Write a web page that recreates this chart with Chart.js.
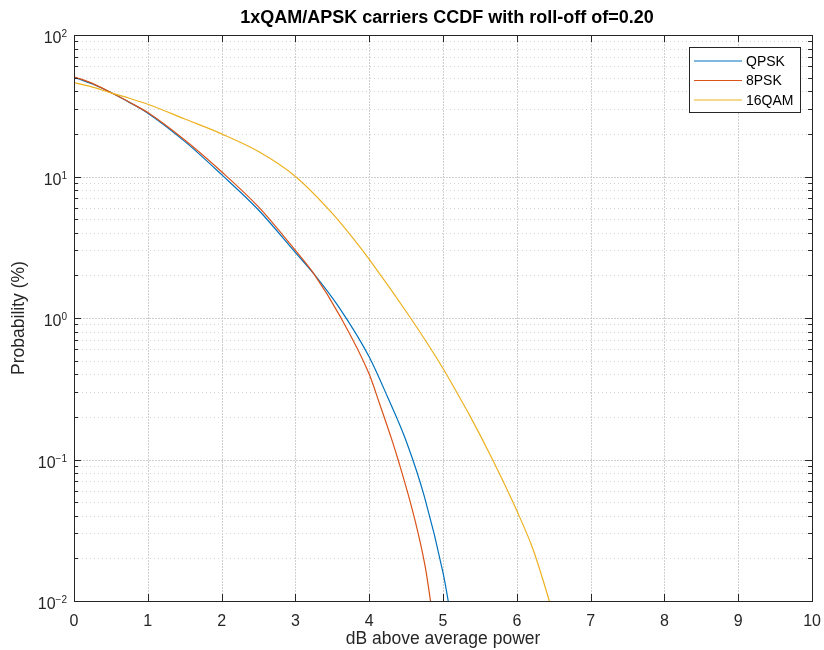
<!DOCTYPE html>
<html lang="en">
<head>
    <meta charset="UTF-8">
    <title>CCDF</title>
    <script src="https://cdn.jsdelivr.net/npm/chart.js"></script>
    <style>
        body {
            margin: 0;
            background: #fff;
        }
        canvas {
            display: block;
        }
    </style>
</head>
<body>

<canvas id="ccdfChart" width="824" height="650"></canvas>

<script>
    // values (dB above average power -> probability %)
    const qpskDb = [0, 0.25, 0.5, 0.75, 1.0, 1.5, 2.0, 2.5, 3.0, 3.25, 3.6, 4.0, 4.25, 4.5, 4.75, 5.0, 5.07, 5.12];
    const qpskProb = [50.4, 45.0, 39.2, 33.4, 28.0, 17.7, 10.3, 5.8, 2.9, 2.05, 1.17, 0.53, 0.275, 0.135, 0.054, 0.0158, 0.01, 0.0068];

    const psk8Db = [0, 0.25, 0.5, 0.75, 1.0, 1.5, 2.0, 2.5, 3.0, 3.25, 3.6, 4.0, 4.14, 4.31, 4.39, 4.61, 4.76, 4.83, 4.87];
    const psk8Prob = [50.6, 45.5, 39.2, 33.5, 28.3, 18.1, 10.8, 6.1, 3.0, 2.05, 1.04, 0.40, 0.248, 0.136, 0.1, 0.039, 0.0173, 0.01, 0.007];

    const qam16Db = [0, 0.22, 0.51, 0.76, 1.0, 1.5, 2.0, 2.5, 3.0, 3.5, 3.8, 4.0, 4.56, 5.0, 5.25, 5.35, 5.67, 6.0, 6.22, 6.44, 6.5];
    const qam16Prob = [46.1, 43.3, 38.8, 35.6, 32.4, 25.5, 20.0, 15.0, 10.0, 5.48, 3.55, 2.6, 1.0, 0.44, 0.26, 0.21, 0.1, 0.0434, 0.0231, 0.01, 0.0078];

    const seriesNames = ['QPSK', '8PSK', '16QAM'];
    const seriesColors = ['#0072BD', '#D95319', '#EDB120'];

    const xTicks = [0, 1, 2, 3, 4, 5, 6, 7, 8, 9, 10];
    const yDecades = [0.01, 0.1, 1, 10, 100];
    const yExponents = ['-2', '-1', '0', '1', '2'];

    const titleText = '1xQAM/APSK carriers CCDF with roll-off of=0.20';
    const axisColor = '#262626';
    const fontFamily = 'Arial, "Liberation Sans", sans-serif';

    function toPoints(xs, ys) {
        return xs.map((x, i) => ({ x: x, y: ys[i] }));
    }

    // minor ticks 2..9 in each decade
    const yMinor = [];
    for (let d = 0; d < yDecades.length - 1; d++) {
        for (let k = 2; k <= 9; k++) yMinor.push(yDecades[d] * k);
    }

    const matlabAxes = {
        id: 'matlabAxes',
        beforeDatasetsDraw(chart) {
            const ctx = chart.ctx;
            const area = chart.chartArea;
            const xs = chart.scales.x;
            const ys = chart.scales.y;
            ctx.save();
            ctx.lineWidth = 1;

            // minor horizontal grid
            ctx.strokeStyle = '#d4d4d4';
            ctx.setLineDash([1, 3]);
            yMinor.forEach(v => {
                const y = Math.round(ys.getPixelForValue(v)) + 0.5;
                ctx.beginPath();
                ctx.moveTo(area.left, y);
                ctx.lineTo(area.right, y);
                ctx.stroke();
            });

            // major grid
            ctx.strokeStyle = '#cfcfcf';
            ctx.setLineDash([2, 1]);
            yDecades.forEach(v => {
                const y = Math.round(ys.getPixelForValue(v)) + 0.5;
                ctx.beginPath();
                ctx.moveTo(area.left, y);
                ctx.lineTo(area.right, y);
                ctx.stroke();
            });
            xTicks.forEach(v => {
                const x = Math.round(xs.getPixelForValue(v)) + 0.5;
                ctx.beginPath();
                ctx.moveTo(x, area.top);
                ctx.lineTo(x, area.bottom);
                ctx.stroke();
            });
            ctx.restore();
        },
        afterDatasetsDraw(chart) {
            const ctx = chart.ctx;
            const area = chart.chartArea;
            const xs = chart.scales.x;
            const ys = chart.scales.y;
            ctx.save();
            ctx.strokeStyle = axisColor;
            ctx.lineWidth = 1;
            ctx.setLineDash([]);

            // inward ticks
            ctx.beginPath();
            xTicks.forEach(v => {
                const x = Math.round(xs.getPixelForValue(v)) + 0.5;
                ctx.moveTo(x, area.bottom);
                ctx.lineTo(x, area.bottom - 7);
                ctx.moveTo(x, area.top);
                ctx.lineTo(x, area.top + 7);
            });
            yDecades.forEach(v => {
                const y = Math.round(ys.getPixelForValue(v)) + 0.5;
                ctx.moveTo(area.left, y);
                ctx.lineTo(area.left + 7, y);
                ctx.moveTo(area.right, y);
                ctx.lineTo(area.right - 7, y);
            });
            yMinor.forEach(v => {
                const y = Math.round(ys.getPixelForValue(v)) + 0.5;
                ctx.moveTo(area.left, y);
                ctx.lineTo(area.left + 4, y);
                ctx.moveTo(area.right, y);
                ctx.lineTo(area.right - 4, y);
            });
            ctx.stroke();

            // box
            ctx.strokeRect(Math.round(area.left) + 0.5, Math.round(area.top) + 0.5,
                Math.round(area.right - area.left), Math.round(area.bottom - area.top));

            // y tick labels with superscript exponents
            ctx.fillStyle = axisColor;
            ctx.textBaseline = 'alphabetic';
            yDecades.forEach((v, i) => {
                const y = ys.getPixelForValue(v);
                ctx.font = '10px ' + fontFamily;
                ctx.textAlign = 'right';
                const expText = yExponents[i].replace('-', '\u2212');
                const expW = ctx.measureText(expText).width;
                ctx.fillText(expText, 67, y + 2);
                ctx.font = '16px ' + fontFamily;
                ctx.fillText('10', 67 - expW, y + 8);
            });

            // title
            ctx.font = 'bold 18px ' + fontFamily;
            ctx.fillStyle = '#000';
            ctx.textAlign = 'center';
            ctx.fillText(titleText, (area.left + area.right) / 2 + 4, 23);

            // legend
            const lx = 689.5, ly = 47.5, lw = 111, lh = 65;
            ctx.fillStyle = '#fff';
            ctx.fillRect(lx, ly, lw, lh);
            ctx.strokeStyle = axisColor;
            ctx.strokeRect(lx, ly, lw, lh);
            ctx.font = '14px ' + fontFamily;
            ctx.textAlign = 'left';
            ctx.textBaseline = 'middle';
            chart.data.datasets.forEach((ds, i) => {
                const rowY = 61 + i * 19.5;
                ctx.strokeStyle = ds.borderColor;
                ctx.lineWidth = 1.2;
                ctx.beginPath();
                ctx.moveTo(694, rowY);
                ctx.lineTo(742, rowY);
                ctx.stroke();
                ctx.fillStyle = '#000';
                ctx.fillText(ds.label, 746, rowY + 1);
            });
            ctx.restore();
        }
    };

    const seriesData = [
        toPoints(qpskDb, qpskProb),
        toPoints(psk8Db, psk8Prob),
        toPoints(qam16Db, qam16Prob)
    ];

    const ctx = document.getElementById('ccdfChart').getContext('2d');
    const ccdfChart = new Chart(ctx, {
        type: 'line',
        data: {
            datasets: seriesNames.map((name, i) => ({
                label: name,
                data: seriesData[i],
                borderColor: seriesColors[i],
                backgroundColor: seriesColors[i],
                borderWidth: 1.2,
                pointRadius: 0,
                cubicInterpolationMode: 'monotone',
                order: 2 - i
            }))
        },
        options: {
            responsive: false,
            animation: false,
            layout: {
                padding: { top: 35, right: 11, left: 0, bottom: 0 }
            },
            plugins: {
                legend: { display: false },
                tooltip: { enabled: false }
            },
            scales: {
                x: {
                    type: 'linear',
                    min: 0,
                    max: 10,
                    grid: { display: false },
                    border: { display: false },
                    ticks: {
                        stepSize: 1,
                        padding: 3,
                        color: axisColor,
                        font: { size: 16, family: fontFamily }
                    },
                    title: {
                        display: true,
                        text: 'dB above average power',
                        color: axisColor,
                        font: { size: 17.5, family: fontFamily },
                        padding: { top: 0, bottom: 0 }
                    },
                    afterFit: scale => { scale.height = 49; }
                },
                y: {
                    type: 'logarithmic',
                    min: 0.01,
                    max: 100,
                    grid: { display: false },
                    border: { display: false },
                    ticks: {
                        callback: () => ''
                    },
                    title: {
                        display: true,
                        text: 'Probability (%)',
                        color: axisColor,
                        font: { size: 17.5, family: fontFamily },
                        padding: { top: 9, bottom: 0 }
                    },
                    afterFit: scale => { scale.width = 74; }
                }
            }
        },
        plugins: [matlabAxes]
    });
</script>

</body>
</html>
